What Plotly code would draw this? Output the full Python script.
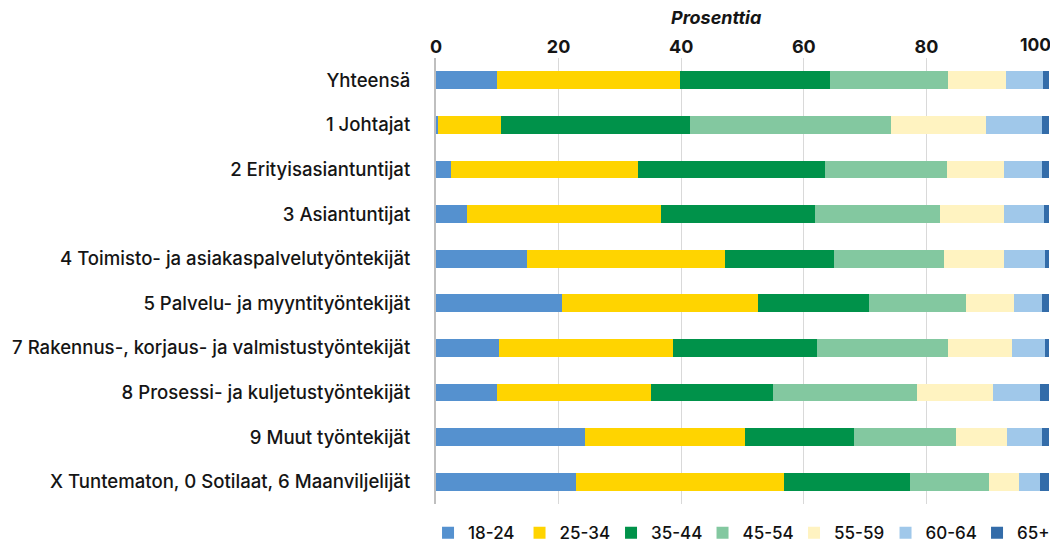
import plotly.graph_objects as go

categories = ["Yhteensä",
              "1 Johtajat",
              "2 Erityisasiantuntijat",
              "3 Asiantuntijat",
              "4 Toimisto- ja asiakaspalvelutyöntekijät",
              "5 Palvelu- ja myyntityöntekijät",
              "7 Rakennus-, korjaus- ja valmistustyöntekijät",
              "8 Prosessi- ja kuljetustyöntekijät",
              "9 Muut työntekijät",
              "X Tuntematon, 0 Sotilaat, 6 Maanviljelijät"]

age_groups = ["18-24", "25-34", "35-44", "45-54", "55-59", "60-64", "65+"]

v_18_24 = [10.0, 0.3, 2.4, 5.0, 14.8, 20.5, 10.2, 10.0, 24.3, 22.8]
v_25_34 = [29.8, 10.3, 30.5, 31.7, 32.3, 32.0, 28.5, 25.0, 26.1, 33.9]
v_35_44 = [24.4, 30.9, 30.5, 25.1, 17.9, 18.2, 23.5, 19.9, 17.8, 20.7]
v_45_54 = [19.4, 32.7, 20.0, 20.4, 17.8, 15.8, 21.4, 23.6, 16.7, 12.8]
v_55_59 = [9.4, 15.6, 9.3, 10.4, 9.9, 7.8, 10.3, 12.3, 8.3, 4.9]
v_60_64 = [6.0, 9.0, 6.2, 6.6, 6.6, 4.6, 5.4, 7.7, 5.7, 3.5]
v_65 = [1.0, 1.2, 1.1, 0.8, 0.7, 1.1, 0.7, 1.5, 1.1, 1.4]

tick_vals = [0, 20, 40, 60, 80, 100]
tick_text = ["0", "20", "40", "60", "80", ""]

series = [v_18_24, v_25_34, v_35_44, v_45_54, v_55_59, v_60_64, v_65]
colors = ["#5591CF", "#FFD400", "#00924A", "#83C8A0",
          "#FFF3C1", "#A0C8EA", "#336CA9"]

fig = go.Figure()
for name, vals, col in zip(age_groups, series, colors):
    fig.add_trace(go.Bar(y=categories, x=vals, name=name,
                         orientation="h",
                         marker=dict(color=col, line=dict(width=0))))

# the page body has an 8px margin, so the figure is shifted by 8px;
# the div is a bit wider/taller than the window so the legend fits on one row
fig.update_layout(
    barmode="stack",
    bargap=0.6,
    width=1120, height=570,
    plot_bgcolor="white",
    paper_bgcolor="white",
    font=dict(family="Inter", color="#151515"),
    margin=dict(l=428, r=79, t=50, b=74),
    legend=dict(orientation="h", x=-0.013, y=-0.025,
                xanchor="left", yanchor="top",
                entrywidth=46.5, entrywidthmode="pixels",
                font=dict(size=17, weight=500, color="#111111"),
                traceorder="normal"),
    xaxis=dict(range=[0, 100], side="top",
               tickvals=tick_vals, ticktext=tick_text,
               showgrid=True, gridcolor="#d9d9d9", gridwidth=1,
               zeroline=False, automargin=False,
               tickfont=dict(size=18, weight="bold"),
               ticks=""),
    yaxis=dict(autorange="reversed", automargin=False,
               tickfont=dict(size=18.6, weight=500),
               ticklabelstandoff=20,
               showline=True, linecolor="#bfbfbf", linewidth=2),
)

# last tick label kept inside the window, like in the original
fig.add_annotation(text="<b>100</b>", xref="x", yref="paper",
                   x=tick_vals[-1], y=1.0, yshift=14,
                   xanchor="right", yanchor="middle", xshift=4,
                   showarrow=False, font=dict(size=17.5))

fig.add_annotation(text="<i><b>Prosenttia</b></i>",
                   xref="paper", yref="paper", x=0.457, y=1.0,
                   yshift=41, xanchor="center", yanchor="middle",
                   showarrow=False, font=dict(size=18))

fig.write_html("out.html")
